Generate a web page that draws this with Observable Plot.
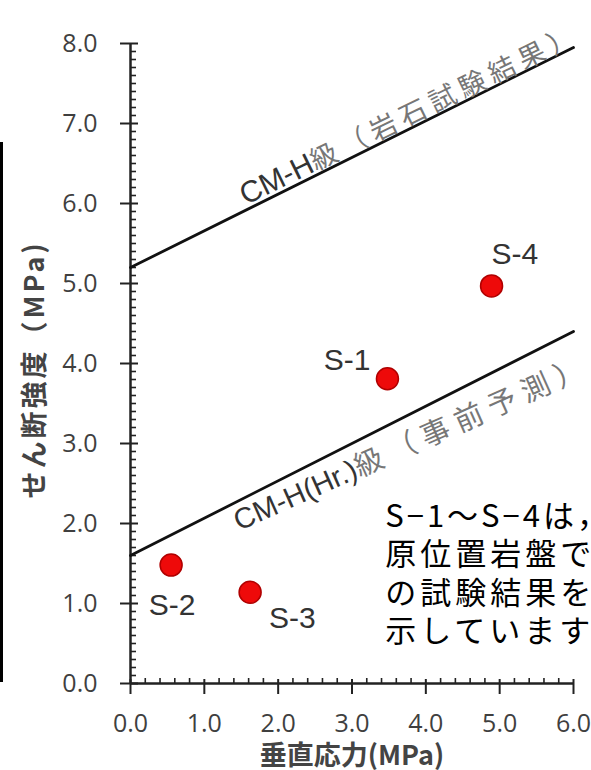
<!DOCTYPE html>
<html><head><meta charset="utf-8">
<script src="https://cdn.jsdelivr.net/npm/d3@7"></script>
<script src="https://cdn.jsdelivr.net/npm/@observablehq/plot@0.6"></script>
<style>
html,body{margin:0;padding:0;background:#fff;overflow:hidden;}
#wrap{position:relative;width:591px;height:770px;overflow:hidden;}
#bar{position:absolute;left:0;top:142px;width:3px;height:540px;background:#000;}
#wrap svg{position:absolute;left:0;top:0;}
</style></head><body><div id="wrap"><div id="bar"></div></div>
<script>
// ---- data ----
const sampleNames = ["S-1", "S-2", "S-3", "S-4"];
const normalStress = [3.48, 0.55, 1.62, 4.89];   // 垂直応力 (MPa)
const shearStrength = [3.81, 1.48, 1.14, 4.97];  // せん断強度 (MPa)

const lineStress = [0, 6];
const upperStrength = [5.2, 7.95];   // CM-H級（岩石試験結果）
const lowerStrength = [1.6, 4.4];    // CM-H(Hr.)級（事前予測）
const lineLabels = ["CM-H級（岩石試験結果）", "CM-H(Hr.)級（事前予測）"];

const xTicks = [0, 1, 2, 3, 4, 5, 6];
const yTicks = [0, 1, 2, 3, 4, 5, 6, 7, 8];
const xTitle = "垂直応力(MPa)";
const yTitle = "せん断強度（MPa)";
const noteText = "S−1〜S−4は，\n原位置岩盤で\nの試験結果を\n示しています";

// ---- layout / style config ----
const labelStyle = {
  "S-1": {dx: -17, dy: -9, anchor: "end"},
  "S-2": {dx: 1, dy: 50, anchor: "middle"},
  "S-3": {dx: 19, dy: 36, anchor: "start"},
  "S-4": {dx: 0, dy: -22, anchor: "start"}
};
const lineLabelAt = [1.56, 1.36];
const noteAt = {x: 3.45, y: 2.29};

const fmt = d3.format(".1f");
const xMinor = d3.range(0, 6.001, 0.2).map(v => +v.toFixed(1)).filter(v => Math.abs(v - Math.round(v)) > 1e-6);
const yMinor = d3.range(0, 8.001, 0.1).map(v => +v.toFixed(1)).filter(v => Math.abs(v - Math.round(v)) > 1e-6);

const points = sampleNames.map((name, i) => ({name, x: normalStress[i], y: shearStrength[i]}));
const upperLine = lineStress.map((x, i) => ({x, y: upperStrength[i]}));
const lowerLine = lineStress.map((x, i) => ({x, y: lowerStrength[i]}));
const onLine = (ys, x) => ys[0] + (x - lineStress[0]) * (ys[1] - ys[0]) / (lineStress[1] - lineStress[0]);

const axisInk = "#222";
const tickFont = "'Open Sans', 'DejaVu Sans', sans-serif";
const cjkFont = "'Noto Sans CJK JP', sans-serif";
const latinFont = "'Liberation Sans', Arial, sans-serif";

const svg = Plot.plot({
  width: 591, height: 770,
  marginLeft: 130, marginRight: 18, marginTop: 43, marginBottom: 87,
  x: {domain: [0, 6], axis: null},
  y: {domain: [0, 8], axis: null},
  style: {background: "transparent", overflow: "visible"},
  marks: [
    Plot.ruleX([0], {stroke: axisInk, strokeWidth: 2.5}),
    Plot.ruleY([0], {stroke: axisInk, strokeWidth: 2.5}),
    Plot.axisY(yTicks, {anchor: "left", tickSize: 18, dx: 8, tickFormat: () => "", label: null, stroke: axisInk, strokeWidth: 2}),
    Plot.axisY(yMinor, {anchor: "left", tickSize: 6, dx: 6, tickFormat: () => "", label: null, stroke: axisInk, strokeWidth: 1.6}),
    Plot.axisX(xTicks, {anchor: "bottom", tickSize: 15, dy: -4, tickFormat: () => "", label: null, stroke: axisInk, strokeWidth: 2}),
    Plot.axisX(xMinor, {anchor: "bottom", tickSize: 5, dy: -5, tickFormat: () => "", label: null, stroke: axisInk, strokeWidth: 1.6}),
    Plot.text(yTicks, {x: 0, y: d => d, text: d => fmt(d), textAnchor: "end", dx: -33, fontSize: 25, fontFamily: tickFont, fill: "#3f3f3f"}),
    Plot.text(xTicks, {x: d => d, y: 0, text: d => fmt(d), dy: 40, fontSize: 25, fontFamily: tickFont, fill: "#3f3f3f"}),
    Plot.line(upperLine, {x: "x", y: "y", stroke: "#111", strokeWidth: 2.8}),
    Plot.line(lowerLine, {x: "x", y: "y", stroke: "#111", strokeWidth: 2.8}),
    Plot.text([lineLabels[0]], {x: lineLabelAt[0], y: onLine(upperStrength, lineLabelAt[0]), text: d => d, rotate: -26, textAnchor: "start", lineAnchor: "bottom", dy: -5, fontSize: 28}),
    Plot.text([lineLabels[1]], {x: lineLabelAt[1], y: onLine(lowerStrength, lineLabelAt[1]), text: d => d, rotate: -24, textAnchor: "start", lineAnchor: "top", dy: 8, fontSize: 28}),
    Plot.dot(points, {x: "x", y: "y", r: 11, fill: "#ee0a0a", stroke: "#b00000", strokeWidth: 1.5}),
    ...points.map(p => Plot.text([p], {x: "x", y: "y", text: "name", dx: labelStyle[p.name].dx, dy: labelStyle[p.name].dy, textAnchor: labelStyle[p.name].anchor, lineAnchor: "bottom", fontSize: 30, fontFamily: latinFont, fill: "#333"})),
    Plot.text([noteText], {x: noteAt.x, y: noteAt.y, text: d => d, textAnchor: "start", lineAnchor: "top", lineHeight: 1.23, fontSize: 31, fontFamily: cjkFont, fill: "#000"}),
    Plot.text([yTitle], {frameAnchor: "left", textAnchor: "middle", dx: -95, dy: 6, rotate: -90, text: d => d, fontSize: 27, fontWeight: "bold", fontFamily: cjkFont, fill: "#444"}),
    Plot.text([xTitle], {frameAnchor: "bottom", textAnchor: "middle", dy: 62, lineAnchor: "top", text: d => d, fontSize: 27, fontWeight: "bold", fontFamily: cjkFont, fill: "#444"})
  ]
});

const sel = d3.select(svg);
sel.selectAll("text").each(function () {
  const t = d3.select(this);
  const s = this.textContent;
  if (s.startsWith("S−1")) {
    t.attr("letter-spacing", 4);
    t.selectAll("tspan").attr("letter-spacing", (d, i) => i === 0 ? 3 : 4);
    return;
  }
  if (s === yTitle) { t.attr("letter-spacing", 3); return; }
  // [latin size, cjk size, cjk letter-spacing]
  const spec = s === lineLabels[0] ? [30, 27, 6] : s === lineLabels[1] ? [29, 29, 7.5] : null;
  if (!spec) return;
  const i = s.indexOf("級");
  t.text(null);
  t.append("tspan").text(s.slice(0, i)).attr("font-family", latinFont).attr("font-size", spec[0]).attr("fill", "#333");
  t.append("tspan").text(s.slice(i)).attr("font-family", cjkFont).attr("font-size", spec[1]).attr("fill", "#777").attr("letter-spacing", spec[2]);
});

document.getElementById("wrap").appendChild(svg);
</script>
</body></html>
